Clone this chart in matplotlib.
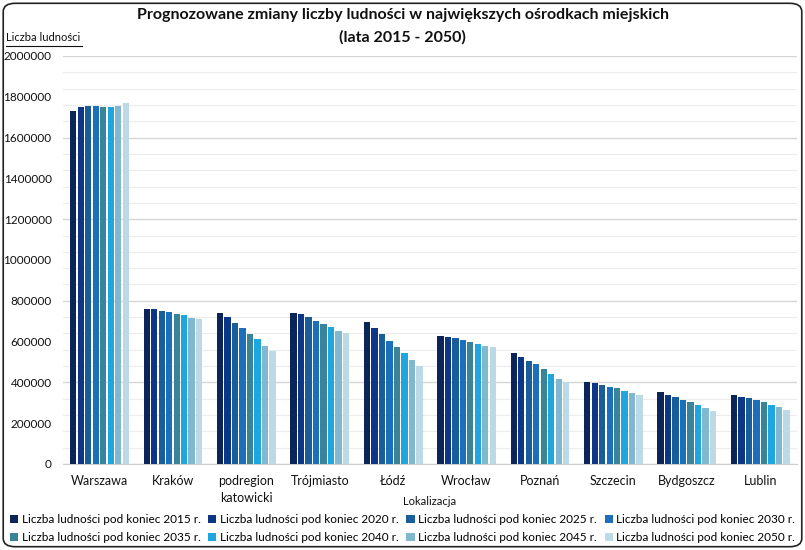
import numpy as np
import matplotlib.pyplot as plt
from matplotlib.patches import FancyBboxPatch
from matplotlib.lines import Line2D
from matplotlib.ticker import MultipleLocator

plt.rcParams['font.family'] = ['Lato', 'DejaVu Sans']

# data <<<
cities = ["Warszawa", "Kraków", "podregion\nkatowicki", "Trójmiasto", "Łódź",
          "Wrocław", "Poznań", "Szczecin", "Bydgoszcz", "Lublin"]
years = [2015, 2020, 2025, 2030, 2035, 2040, 2045, 2050]

pop_2015 = [1730000, 758000, 739000, 739000, 696000, 629000, 543000, 402000, 353000, 340000]
pop_2020 = [1750000, 758000, 722000, 734000, 665000, 623000, 525000, 396000, 340000, 328000]
pop_2025 = [1756000, 751000, 691000, 722000, 636000, 616000, 506000, 389000, 327000, 322000]
pop_2030 = [1756000, 746000, 665000, 702000, 604000, 609000, 489000, 377000, 315000, 315000]
pop_2035 = [1750000, 735000, 636000, 685000, 574000, 598000, 464000, 371000, 302000, 302000]
pop_2040 = [1750000, 729000, 611000, 672000, 543000, 587000, 440000, 358000, 289000, 289000]
pop_2045 = [1755000, 716000, 580000, 653000, 511000, 580000, 418000, 347000, 273000, 278000]
pop_2050 = [1768000, 709000, 555000, 641000, 480000, 574000, 400000, 338000, 260000, 267000]
series = [pop_2015, pop_2020, pop_2025, pop_2030, pop_2035, pop_2040, pop_2045, pop_2050]
# >>>

colors = ["#0b2559", "#0d3687", "#195d9a", "#1c6fba", "#3a8499",
          "#1fa6de", "#80b8cf", "#bcd9e6"]

fig = plt.figure(figsize=(8.05, 5.5), dpi=100)
ax = fig.add_axes([0.078, 0.1564, 0.912, 0.7418])

x = np.arange(len(cities))
slot = 0.102
width = 0.086
for i, (yr, vals) in enumerate(zip(years, series)):
    ax.bar(x + (i - 3.5) * slot, vals, width, color=colors[i],
           label=f"Liczba ludności pod koniec {yr} r.", zorder=3)

ax.set_xlim(-0.5, len(cities) - 0.5)
ax.set_ylim(0, 2000000)
ax.yaxis.set_major_locator(MultipleLocator(200000))
ax.yaxis.set_minor_locator(MultipleLocator(80000))
ax.grid(False)
ax.grid(True, which="minor", axis="y", color="#ececec", linewidth=0.8, zorder=0)
for lvl in range(0, 2000001, 400000):
    ax.axhline(lvl, color="#d6d6d6", linewidth=1.0, zorder=1)

for s in ["top", "right", "left"]:
    ax.spines[s].set_visible(False)
ax.spines["bottom"].set_color("#d0d0d0")
ax.tick_params(axis="y", which="both", length=0, labelsize=8.5, colors="#111111", pad=8)
ax.tick_params(axis="x", length=0, labelsize=9, colors="#111111", pad=8)
ax.set_yticklabels([f"{int(v)}" for v in ax.get_yticks()])
ax.set_xticks(x)
ax.set_xticklabels(cities, linespacing=1.5)

ax.set_xlabel("Lokalizacja", fontsize=8, color="#111111", labelpad=-6)

fig.text(0.5, 0.972, "Prognozowane zmiany liczby ludności w największych ośrodkach miejskich",
         ha="center", va="center", fontsize=11.5, fontweight="bold", color="#111111")
fig.text(0.5, 0.932, "(lata 2015 - 2050)", ha="center", va="center",
         fontsize=11.5, fontweight="bold", color="#111111")

fig.text(0.008, 0.931, "Liczba ludności", ha="left", va="center",
         fontsize=8, color="#111111")
fig.add_artist(Line2D([0.008, 0.102], [0.917, 0.917], color="#111111", linewidth=0.8))

# legend filled row by row, 4 per row
handles, labels = ax.get_legend_handles_labels()
order = [0, 4, 1, 5, 2, 6, 3, 7]
leg = fig.legend([handles[k] for k in order], [labels[k] for k in order],
                 loc="center", bbox_to_anchor=(0.5, 0.039), ncol=4,
                 frameon=False, fontsize=8.5, handlelength=0.7, handleheight=0.7,
                 handletextpad=0.3, columnspacing=0.65, labelspacing=0.55)

fig.add_artist(FancyBboxPatch((0.004, 0.006), 0.992, 0.988,
                              boxstyle="round,pad=0,rounding_size=0.015",
                              transform=fig.transFigure, fill=False,
                              edgecolor="#222222", linewidth=1.2))

fig.savefig("out.png", dpi=100)
